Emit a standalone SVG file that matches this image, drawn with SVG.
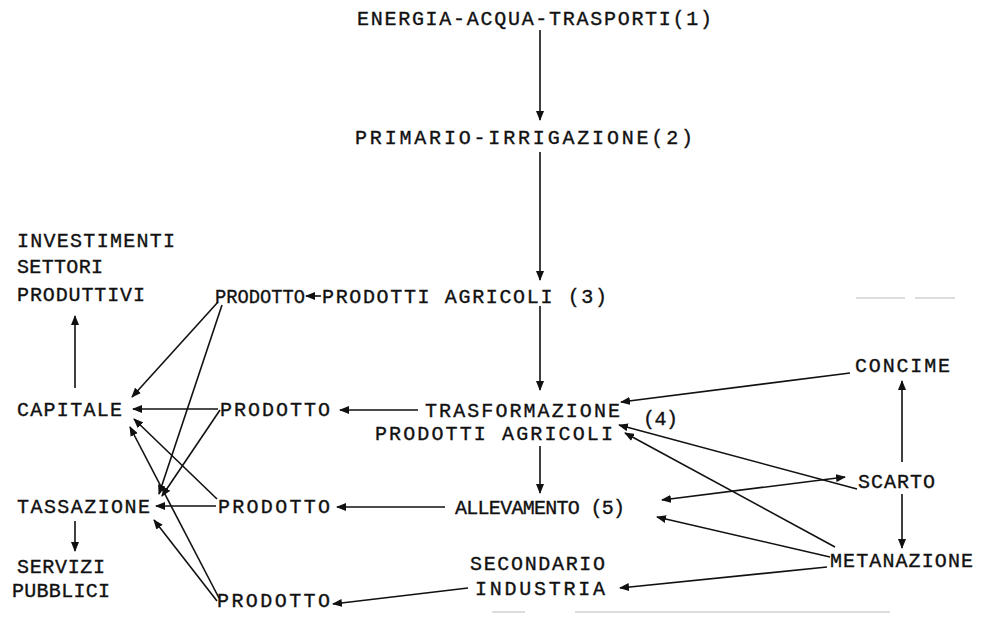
<svg xmlns="http://www.w3.org/2000/svg" width="984" height="618" viewBox="0 0 984 618">
<defs>
<style>
.t{font-family:"Liberation Mono","Courier New",monospace;font-size:20px;fill:#111;stroke:#111;stroke-width:0.35;}
.c line{stroke:#111;stroke-width:1.6;fill:none;}
.a{marker-end:url(#ah);}
.b{marker-start:url(#as);marker-end:url(#ah);}
.scan{stroke:#bbb;stroke-width:1.2;}
</style>
<marker id="ah" viewBox="0 0 10 8" refX="9" refY="4" markerWidth="10" markerHeight="8" markerUnits="userSpaceOnUse" orient="auto">
<path d="M0,0 L10,4 L0,8 Z" fill="#111"/>
</marker>
<marker id="as" viewBox="0 0 10 8" refX="1" refY="4" markerWidth="10" markerHeight="8" markerUnits="userSpaceOnUse" orient="auto">
<path d="M10,0 L0,4 L10,8 Z" fill="#111"/>
</marker>
</defs>
<rect width="984" height="618" fill="#fff"/>

<g id="energia"><text class="t" x="357" y="25" textLength="355" lengthAdjust="spacing">ENERGIA-ACQUA-TRASPORTI(1)</text></g>
<g id="primario"><text class="t" x="355" y="144" textLength="338" lengthAdjust="spacing">PRIMARIO-IRRIGAZIONE(2)</text></g>
<g id="prodotto1"><text class="t" x="215" y="303" textLength="90" lengthAdjust="spacingAndGlyphs">PRODOTTO</text></g>
<g id="agricoli"><text class="t" x="322" y="303" textLength="285" lengthAdjust="spacing">PRODOTTI AGRICOLI (3)</text></g>
<g id="investimenti">
<text class="t" x="17" y="247" textLength="158" lengthAdjust="spacing">INVESTIMENTI</text>
<text class="t" x="17" y="273" textLength="86" lengthAdjust="spacing">SETTORI</text>
<text class="t" x="17" y="301" textLength="128" lengthAdjust="spacing">PRODUTTIVI</text>
</g>
<g id="capitale"><text class="t" x="17" y="416" textLength="105" lengthAdjust="spacing">CAPITALE</text></g>
<g id="prodotto2"><text class="t" x="220" y="416" textLength="110" lengthAdjust="spacing">PRODOTTO</text></g>
<g id="trasformazione">
<text class="t" x="425" y="417" textLength="195" lengthAdjust="spacing">TRASFORMAZIONE</text>
<text class="t" x="375" y="440" textLength="238" lengthAdjust="spacing">PRODOTTI AGRICOLI</text>
<text class="t" x="643" y="425" textLength="35" lengthAdjust="spacing">(4)</text>
</g>
<g id="tassazione"><text class="t" x="17" y="513" textLength="133" lengthAdjust="spacing">TASSAZIONE</text></g>
<g id="prodotto3"><text class="t" x="218" y="513" textLength="112" lengthAdjust="spacing">PRODOTTO</text></g>
<g id="allevamento"><text class="t" x="455" y="514" textLength="170" lengthAdjust="spacing">ALLEVAMENTO (5)</text></g>
<g id="servizi">
<text class="t" x="17" y="573" textLength="88" lengthAdjust="spacing">SERVIZI</text>
<text class="t" x="12" y="597" textLength="98" lengthAdjust="spacing">PUBBLICI</text>
</g>
<g id="secondario">
<text class="t" x="470" y="570" textLength="135" lengthAdjust="spacing">SECONDARIO</text>
<text class="t" x="475" y="595" textLength="130" lengthAdjust="spacing">INDUSTRIA</text>
</g>
<g id="prodotto4"><text class="t" x="217" y="607" textLength="113" lengthAdjust="spacing">PRODOTTO</text></g>
<g id="concime"><text class="t" x="855" y="372" textLength="95" lengthAdjust="spacing">CONCIME</text></g>
<g id="scarto"><text class="t" x="858" y="488" textLength="77" lengthAdjust="spacing">SCARTO</text></g>
<g id="metanazione"><text class="t" x="830" y="567" textLength="143" lengthAdjust="spacing">METANAZIONE</text></g>

<g id="connectors" class="c">
<line class="a" x1="540" y1="30" x2="540" y2="120"/>
<line class="a" x1="540" y1="152" x2="540" y2="280"/>
<line class="a" x1="321" y1="296" x2="306" y2="296"/>
<line class="a" x1="540" y1="306" x2="540" y2="390"/>
<line class="a" x1="418" y1="410" x2="340" y2="410"/>
<line class="a" x1="540" y1="446" x2="540" y2="493"/>
<line class="a" x1="445" y1="507" x2="337" y2="507"/>
<line class="a" x1="468" y1="588" x2="333" y2="604"/>
<line class="a" x1="850" y1="373" x2="621" y2="402"/>
<line class="a" x1="857" y1="489" x2="619" y2="425"/>
<line class="a" x1="835" y1="547" x2="625" y2="433"/>
<line class="a" x1="830" y1="557" x2="657" y2="517"/>
<line class="b" x1="662" y1="500" x2="845" y2="477"/>
<line class="a" x1="827" y1="567" x2="620" y2="588"/>
<line class="a" x1="902" y1="462" x2="902" y2="381"/>
<line class="a" x1="902" y1="494" x2="902" y2="548"/>
<line class="a" x1="75" y1="388" x2="75" y2="316"/>
<line class="a" x1="75" y1="521" x2="75" y2="551"/>
<line class="a" x1="218" y1="302" x2="132" y2="397"/>
<line class="a" x1="222" y1="305" x2="159" y2="494"/>
<line class="a" x1="218" y1="409" x2="133" y2="409"/>
<line class="a" x1="220" y1="410" x2="162" y2="496"/>
<line class="a" x1="216" y1="506" x2="156" y2="506"/>
<line class="a" x1="217" y1="499" x2="134" y2="419"/>
<line class="a" x1="219" y1="598" x2="130" y2="427"/>
<line class="a" x1="217" y1="601" x2="154" y2="520"/>
</g>

<g id="scan-marks">
<line class="scan" x1="856" y1="298" x2="905" y2="298"/>
<line class="scan" x1="915" y1="298" x2="955" y2="298"/>
<line class="scan" x1="492" y1="612" x2="525" y2="612"/>
<line class="scan" x1="575" y1="612" x2="890" y2="612"/>
</g>
</svg>
